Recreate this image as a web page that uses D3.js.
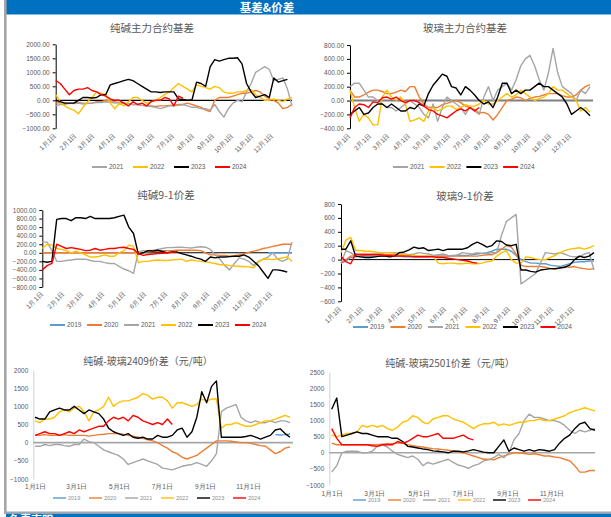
<!DOCTYPE html>
<html><head><meta charset="utf-8">
<script src="https://cdn.jsdelivr.net/npm/d3@7"></script>
<style>
body{margin:0;background:#fff;}
svg{display:block;font-family:"Noto Sans CJK SC","Noto Sans",sans-serif;}
</style>
</head><body>
<svg id="c" width="611" height="517"></svg>
<script>
// ---------- DATA (weekly samples, index i = day 7*i of the year) ----------
const years = [2019, 2020, 2021, 2022, 2023, 2024];

// 纯碱主力合约基差
const sb2020 = [-100,-80,-100,-120,-100,-80,-100,-120,-100,-50,-50,0,0,-50,-100,-100,-120,-150,-150,-180,-200,-200,-220,-200,-200,-180,-180,-150,-150,-100,-150,-200,-250,-350,-400,0,100,100,100,150,200,250,250,300,350,300,150,50,0,-100,-300,-250,-150];
const sb2021 = [-200,-150,-150,-100,-120,-100,-130,-100,-100,-80,-80,-50,-60,-100,-80,-100,-120,-150,-150,-180,-200,-220,-250,-300,-250,-200,-200,-180,-150,-200,-250,-250,-300,-300,-350,-150,-400,-600,-300,-100,0,-50,300,600,1000,1100,1200,1100,700,750,800,400,-200];
const sb2022 = [200,-50,-200,-300,-350,-480,-250,-50,100,300,250,200,-100,-300,-100,-200,-50,100,100,0,-100,-50,0,100,200,300,450,600,500,400,300,550,500,450,400,500,450,300,250,250,300,300,350,380,200,100,0,0,50,0,-50,50,100];
const sb2023 = [0,-50,-100,-100,-100,0,100,100,80,100,200,200,550,600,650,700,750,700,600,500,400,300,300,280,300,300,300,50,30,0,20,650,600,500,1200,1450,1400,1450,1500,1500,1520,1300,600,300,100,150,200,100,800,650,700,750,null];
const sb2024 = [700,600,400,200,350,400,400,450,350,300,200,150,50,0,0,-100,-200,-50,-150,-100,-200,-50,0,0,100,50,-200,150,80];

// 玻璃主力合约基差
const gb2020 = [150,50,50,80,120,150,150,130,100,100,120,150,130,200,200,50,-50,-100,-100,-100,-60,-40,-20,0,-30,-80,-100,-130,-180,-170,-200,-280,-200,-100,0,20,50,40,0,30,50,60,80,100,100,100,70,50,50,80,150,200,230];
const gb2021 = [200,250,250,150,50,50,0,-50,-100,-100,-150,-100,-50,0,-50,-100,-200,-250,-50,-300,-100,50,0,-50,-100,-200,-100,-150,-200,50,200,0,150,200,250,150,300,500,600,650,500,300,150,400,750,400,200,150,100,0,150,100,200];
const gb2022 = [150,-100,-300,-200,-250,-350,-350,50,150,50,0,50,-50,-300,-280,-250,-300,-150,-100,-150,-120,-80,-80,-130,-100,-60,-80,-80,-50,0,-50,-50,0,50,100,50,80,150,100,50,0,30,50,100,200,150,150,100,50,0,-150,-100,-170];
const gb2023 = [-200,-150,-100,-200,-180,-100,-50,-50,-100,-50,-100,-150,-150,-100,-120,-50,-80,100,220,300,380,350,200,180,80,200,150,80,0,-50,-20,-100,50,250,250,100,150,100,150,150,200,250,200,200,150,100,50,-50,-200,-150,-100,-150,-220];
const gb2024 = [-250,-100,-50,-60,-100,-20,-30,40,50,20,50,0,-30,0,0,-30,-80,-130,-150,-200,-220,-250,-200,-150,-120,-150,-100,-150,-100];

// 纯碱9-1价差
const s912019 = [0,0,0,0,0,0];          // starts at week 47
const s912020 = [0,0,0,0,0,0,0,0,0,0,0,0,0,0,0,0,0,0,0,0,0,10,20,30,40,50,50,50,60,60,60,60,60,50,0,-50,-50,-60,-60,-80,-70,-50,-20,10,40,60,100,120,150,170,200,200,200];
const s912021 = [250,250,50,-200,-200,-180,-170,-150,-150,-150,-180,-200,-200,-230,-250,-250,-320,-380,-420,-480,20,50,50,60,80,100,120,120,130,130,120,110,130,140,130,80,-50,-150,-300,-400,-250,-120,-150,-200,-300,-200,-150,-100,0,-150,-200,-150,250];
const s912022 = [100,200,180,100,80,50,0,30,0,-50,-100,-100,-80,-50,-80,-80,0,50,180,150,-230,-200,-200,-180,-170,-180,-180,-170,-160,-150,-200,-170,-190,-200,-210,-230,-250,-280,-280,-300,-310,-320,-320,-330,-350,-220,-150,-150,-160,-140,-120,-100,-200];
const s912023 = [-200,-220,-200,780,800,800,750,820,820,800,850,800,800,800,800,820,850,880,600,450,-30,0,50,40,60,30,0,20,20,-20,-50,-80,-120,-150,-200,-100,-120,-100,-100,-90,-80,-80,-50,-100,-200,-300,-450,-600,-400,-400,-420,-450];
const s912024 = [-400,-300,-250,200,150,100,120,100,80,50,60,100,60,80,100,100,120,130,100,80,-20,-60,-40,-30,-20,-10,0,10,20];

// 玻璃9-1价差
const g912019 = [-50,-20,30,40,50,50,50,50,50,50,50,50,50,40,40,40,40,40,40,50,50,50,50,60,60,60,60,70,80,90,100,120,150,150,150,120,60,0,-30,-50,-50,-60,-60,-80,-90,-100,-80,-60,-40,-30,-30,-20,-20];
const g912020 = [-50,0,50,60,80,80,80,80,80,70,70,70,60,60,60,60,50,50,50,50,50,50,50,50,50,50,50,50,50,60,70,70,100,150,200,180,80,-80,-100,-100,-100,-100,-110,-130,-140,-120,-100,-110,-100,-120,-130,-140,-130];
const g912021 = [-50,130,100,50,50,60,70,80,80,100,100,100,90,80,70,80,100,90,80,60,70,80,60,50,70,100,90,80,100,90,80,100,100,350,550,600,650,-350,-300,-250,-200,-50,100,90,80,100,80,50,40,40,80,100,-150];
const g912022 = [100,280,320,130,130,120,120,110,100,100,100,90,80,70,60,60,50,50,50,40,-50,-60,-50,-50,-60,-60,-50,-60,-60,-50,-30,-20,50,100,130,0,-50,-50,40,30,10,0,0,30,60,100,130,150,160,170,150,170,200];
const g912023 = [150,150,270,50,40,30,30,40,50,50,40,50,100,110,140,180,160,170,130,140,150,130,150,150,150,150,170,220,250,220,180,200,270,260,210,200,220,-150,-150,-170,-180,-150,-140,-130,-130,-120,-110,-80,0,50,30,50,100];
const g912024 = [50,-30,-60,80,70,70,70,70,70,60,60,50,50,50,50,40,40,40,40,40,30,30,20,10,0,-10,-20,-40,-50];

// 纯碱-玻璃2409价差
const d2409_2019 = [220,210,220,240];   // starts at week 49
const d2409_2020 = [200,200,220,200,200,200,220,200,200,200,200,180,200,220,230,250,250,250,230,200,180,150,120,80,50,0,-80,-150,-250,-300,-400,-450,-400,-350,-250,-150,-50,50,50,50,40,20,0,0,-20,-50,-80,-100,-200,-300,-250,-150,-120];
const d2409_2021 = [-100,-100,-50,-80,-50,-50,-80,-100,-50,-50,100,30,0,-100,-200,-250,-300,-350,-450,-600,-550,-500,-450,-500,-550,-600,-700,-720,-750,-700,-650,-620,-600,-550,-600,-650,-500,-300,850,950,1000,1050,700,600,550,600,550,550,600,550,600,600,550];
const d2409_2022 = [600,550,650,650,700,850,900,850,950,1000,850,600,850,900,1000,1250,1000,1100,1150,1150,1200,1250,1350,1300,1200,1250,1250,1150,950,1100,1100,1050,1000,1050,1200,1150,1200,1200,400,500,500,550,500,450,450,500,550,600,600,650,700,750,700];
const d2409_2023 = [700,650,650,850,900,950,900,900,1000,900,800,900,850,800,650,400,300,250,200,250,150,120,150,100,100,200,150,150,200,350,400,150,300,700,1400,1100,1550,1700,150,150,150,150,150,170,200,150,100,150,200,350,380,250,150];
const d2409_2024 = [200,250,300,250,250,200,250,300,250,350,300,350,400,450,450,600,700,650,700,600,750,700,600,550,500,550,500,650,500];

// 纯碱-玻璃2501价差
const d2501_2019 = [];
const d2501_2020 = [300,250,250,250,250,250,250,250,250,250,270,280,280,300,300,250,220,200,180,150,130,120,100,80,60,30,0,-50,-100,-150,-200,-200,-220,-150,-100,-50,0,0,-20,-50,-30,-60,-100,-100,-130,-150,-200,-250,-400,-600,-600,-550,-550];
const d2501_2021 = [-600,-400,0,50,50,50,0,0,50,200,250,180,50,-50,-100,-150,-100,-200,-400,-300,-350,-300,-250,-200,-300,-380,-420,-480,-400,-350,-250,-220,-150,-50,-150,0,400,600,1000,1200,1100,1100,1050,1000,1000,950,850,700,600,700,650,700,750];
const d2501_2022 = [550,500,550,600,600,650,850,800,850,800,850,750,700,800,950,1000,1150,1100,950,900,1050,1100,1150,1150,1050,1000,950,850,750,850,900,900,950,850,900,850,900,950,950,1000,1000,1050,1000,1000,1050,1100,1150,1250,1300,1350,1400,1350,1300];
const d2501_2023 = [1350,1700,500,550,600,650,600,600,550,500,500,500,450,450,350,200,180,150,120,100,60,50,30,0,50,50,30,60,100,60,20,0,0,200,400,50,150,100,50,100,50,100,80,50,100,300,450,550,750,900,950,750,700];
const d2501_2024 = [750,450,250,250,250,250,250,250,220,200,250,250,250,350,300,350,450,550,500,500,550,600,450,450,450,500,550,450,400];

// ---------- STYLE / LAYOUT ----------
const COLORS = {2019:"#5B9BD5",2020:"#ED7D31",2021:"#A5A5A5",2022:"#FFC000",2023:"#000000",2024:"#FF0000"};
const TXT = "#595959";

const panels = [
 {title:"纯碱主力合约基差", tx:152, ty:28, x0:55.7, x1:292, xEnd:292, yTop:44.3, yBot:128.3, yMin:-1000, yMax:2000, step:500, fmt:".2f",
  rot:true, legY:167, legX:92, legDX:41, legend:[2021,2022,2023,2024], axisColor:"#000", zeroColor:"#000", zeroW:1.2,
  series:[[2020,sb2020,0],[2021,sb2021,0],[2022,sb2022,0],[2023,sb2023,0],[2024,sb2024,0]]},
 {title:"玻璃主力合约基差", tx:465, ty:28, x0:350, x1:590, xEnd:593, yTop:45, yBot:128.3, yMin:-400, yMax:800, step:200, fmt:".2f",
  rot:true, legY:167, legX:393, legDX:36.7, legend:[2021,2022,2023,2024], axisColor:"#000", zeroColor:"#7f7f7f", zeroW:2,
  series:[[2020,gb2020,0],[2021,gb2021,0],[2022,gb2022,0],[2023,gb2023,0],[2024,gb2024,0]]},
 {title:"纯碱9-1价差", tx:166, ty:195, x0:42.3, x1:292, xEnd:292, yTop:210, yBot:287, yMin:-800, yMax:1000, step:200, fmt:".2f",
  rot:true, legY:325, legX:50, legDX:37, legend:years, axisColor:"#000", zeroColor:"#000", zeroW:1,
  series:[[2019,s912019,47],[2020,s912020,0],[2021,s912021,0],[2022,s912022,0],[2023,s912023,0],[2024,s912024,0]]},
 {title:"玻璃9-1价差", tx:465, ty:196, x0:341, x1:594, xEnd:594, yTop:204, yBot:301.3, yMin:-600, yMax:800, step:200, fmt:"d",
  rot:true, legY:327, legX:353, legDX:37.5, legend:years, axisColor:"#000", zeroColor:"#000", zeroW:1,
  series:[[2019,g912019,0],[2020,g912020,0],[2021,g912021,0],[2022,g912022,0],[2023,g912023,0],[2024,g912024,0]]},
 {title:"纯碱-玻璃2409价差（元/吨）", tx:148, ty:361, x0:35, x1:290, xEnd:293, axisX:33.3, yTop:370, yBot:479, yMin:-1000, yMax:2000, step:500, fmt:"d",
  rot:false, labY:487, legY:498, legX:53, legDX:36, legend:years, axisColor:"#d0d0d0", zeroColor:"#a6a6a6", zeroW:1.6, small:true,
  series:[[2019,d2409_2019,49],[2020,d2409_2020,0],[2021,d2409_2021,0],[2022,d2409_2022,0],[2023,d2409_2023,0],[2024,d2409_2024,0]]},
 {title:"纯碱-玻璃2501价差（元/吨）", tx:450, ty:363, x0:331.7, x1:595, xEnd:595, axisX:329.3, yTop:372.3, yBot:485, yMin:-1000, yMax:2500, step:500, fmt:"d",
  rot:false, labY:494, legY:500, legX:353, legDX:35, legend:years, axisColor:"#d0d0d0", zeroColor:"#a6a6a6", zeroW:1.6, small:true,
  series:[[2019,d2501_2019,0],[2020,d2501_2020,0],[2021,d2501_2021,0],[2022,d2501_2022,0],[2023,d2501_2023,0],[2024,d2501_2024,0]]}
];

const svg = d3.select("#c");

// frame: header bar, left rule, bottom bars
svg.append("rect").attr("x",0).attr("y",0).attr("width",611).attr("height",517).attr("fill","#fff");
svg.append("rect").attr("x",6).attr("y",0).attr("width",605).attr("height",14.5).attr("fill","#0070C0");
svg.append("text").attr("x",267).attr("y",7.5).attr("dy","0.36em").attr("text-anchor","middle")
  .attr("fill","#fff").attr("font-weight","bold").attr("font-size",11.5).text("基差&价差");
svg.append("rect").attr("x",4).attr("y",0).attr("width",2.6).attr("height",514).attr("fill","#A6A6A6");
svg.append("rect").attr("x",4).attr("y",511.5).attr("width",607).attr("height",2.2).attr("fill","#A6A6A6");
svg.append("rect").attr("x",6).attr("y",513.7).attr("width",605).attr("height",4).attr("fill","#0070C0");
svg.append("text").attr("x",9).attr("y",524).attr("fill","#fff").attr("font-weight","bold").attr("font-size",11).text("免责声明");

const day0 = new Date(2023,0,1);
const dateOf = i => new Date(2023,0,1+7*i);

panels.forEach(p => {
  const g = svg.append("g");
  const x = d3.scaleTime().domain([day0, new Date(2023,11,31)]).range([p.x0, p.x1]);
  const y = d3.scaleLinear().domain([p.yMin, p.yMax]).range([p.yBot, p.yTop]);
  const axisX = p.axisX !== undefined ? p.axisX : p.x0;

  // title
  g.append("text").attr("x",p.tx).attr("y",p.ty).attr("dy","0.36em").attr("text-anchor","middle")
    .attr("fill",TXT).attr("font-size",p.small?10:10.5).text(p.title);

  // y axis
  const ya = d3.axisLeft(y).tickValues(d3.range(p.yMin, p.yMax + p.step/2, p.step))
    .tickFormat(d3.format(p.fmt)).tickSize(p.small?0:3).tickSizeOuter(0).tickPadding(p.small?5:3);
  const yg = g.append("g").attr("transform",`translate(${axisX},0)`).call(ya);
  yg.select(".domain").attr("stroke",p.axisColor).attr("stroke-width",1);
  yg.selectAll(".tick line").attr("stroke",p.axisColor);
  yg.selectAll("text").attr("fill",TXT).attr("font-size",6.5).attr("font-family","'Liberation Sans',sans-serif");

  // x labels
  const xa = d3.axisBottom(x).ticks(d3.timeMonth.every(p.rot?1:2))
    .tickFormat(d => (d.getMonth()+1) + "月1日").tickSize(0);
  const labY = p.rot ? p.yBot + 5 : p.labY;
  const xg = g.append("g").attr("transform",`translate(0,${labY})`).call(xa);
  xg.select(".domain").remove();
  xg.selectAll("text").attr("fill",TXT).attr("font-size",6.5);
  if (p.rot) {
    xg.selectAll("text").attr("text-anchor","end").attr("x",-1).attr("y",0).attr("dy","0.35em")
      .attr("transform","rotate(-45)");
  } else {
    xg.selectAll("text").attr("y",0).attr("dy","0.35em");
  }

  // zero line
  g.append("line").attr("x1",axisX).attr("x2",p.xEnd).attr("y1",y(0)).attr("y2",y(0))
    .attr("stroke",p.zeroColor).attr("stroke-width",p.zeroW);

  // series
  const line = d3.line().defined(d => d.v !== null).x(d => x(d.date)).y(d => y(d.v));
  p.series.forEach(([yr, vals, start]) => {
    const pts = vals.map((v,j) => ({date: dateOf(start + j), v: v}));
    if (!pts.length) return;
    g.append("path").datum(pts).attr("d", line).attr("fill","none")
      .attr("stroke", COLORS[yr]).attr("stroke-width",1.4).attr("stroke-linejoin","round");
  });

  // legend
  p.legend.forEach((yr,k) => {
    const lx = p.legX + k*p.legDX;
    const lg = g.append("g").attr("transform",`translate(${lx},${p.legY})`);
    lg.append("line").attr("x1",0).attr("x2",p.small?13:15).attr("y1",0).attr("y2",0)
      .attr("stroke",COLORS[yr]).attr("stroke-width",p.small?1.4:2);
    lg.append("text").attr("x",p.small?15:17).attr("y",0).attr("dy","0.35em")
      .attr("fill",p.small?"#8c8c8c":TXT).attr("font-size",p.small?5.5:6.5)
      .attr("font-family","'Liberation Sans',sans-serif").text(yr);
  });
});
</script>
</body></html>
